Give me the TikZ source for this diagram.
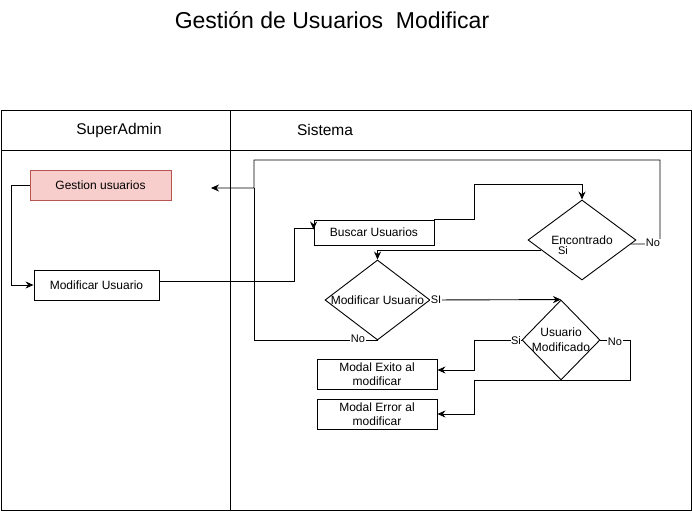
\documentclass[tikz,border=0pt]{standalone}
\usepackage{fontspec}
\setmainfont{Liberation Sans}
\usetikzlibrary{arrows.meta,shapes.geometric,calc}
\definecolor{rosa}{HTML}{F8CECC}
\definecolor{rosaborde}{HTML}{B85450}

\begin{document}
\begin{tikzpicture}[x=1pt,y=-1pt,line width=0.9pt,
    font=\fontsize{12}{14}\selectfont,
    box/.style={draw,minimum height=30pt,inner sep=0pt,align=center},
    decision/.style={draw,shape=diamond,inner sep=0pt,minimum height=80pt},
    arr/.style={-{Stealth[length=8pt,width=7pt]}},
    lbl/.style={fill=white,inner sep=0.5pt,font=\fontsize{11}{12}\selectfont},
    lane/.style={font=\fontsize{15.5}{17}\selectfont}]
\useasboundingbox (0,0) rectangle (692,511);

\node[font=\fontsize{23}{26}\selectfont] (titulo) at (332,20) {Gestión de Usuarios~~Modificar};

\draw (1,110) rectangle (691,510);
\draw (1,150) -- (691,150);
\draw (230,110) -- (230,510);
\node[lane] (superadmin) at (119,130) {SuperAdmin};
\node[lane] (sistema) at (325,130) {Sistema};

\node[box,fill=rosa,draw=rosaborde,minimum width=141pt] (gest) at (100.5,185) {Gestion usuarios};
\node[box,minimum width=125pt] (modu) at (96.5,285) {Modificar Usuario};
\node[box,minimum width=120pt,minimum height=25pt] (busc) at (374,232.5) {Buscar Usuarios};
\node[decision,minimum width=108pt,label=center:Encontrado] (enc) at (582,240) {};
\node[decision,minimum width=105pt,label=center:Modificar Usuario] (modd) at (377.5,300) {};
\node[decision,minimum width=78pt,label={[align=center,font=\fontsize{12}{15}\selectfont]center:Usuario\\Modificado}] (umod) at (561,340) {};
\node[box,minimum width=120pt] (exito) at (377,374) {Modal Exito al\\modificar};
\node[box,minimum width=120pt] (error) at (377,414) {Modal Error al\\modificar};
\coordinate (regreso) at (211,188);

\draw[arr] (gest.west) -- (11,185) |- (modu.west);
\draw[arr] ([yshift=4pt]modu.east) -| (294,228) -| ([yshift=-10pt]busc.north west);
\draw[arr] (busc.north east) -| (474,184) -| (enc.north);
\draw[arr] ($(enc.west)!0.25!(enc.south)$) -| (modd.north);
\draw[arr] ($(enc.east)!0.1!(enc.south)$) -- (660,244) |- (254,160) |- (regreso);
\draw (modd.south) -| (254,188);
\draw[arr] (modd.east) -- (umod.north);
\draw[arr] (umod.west) -- (474,340) |- ([yshift=4pt]exito.east);
\draw[arr] (umod.east) -- (630,340) |- (474,380) |- (error.east);

\node[lbl,fill=none] (sienc) at (563,251) {Si};
\node[lbl] (noenc) at (653,243) {No};
\node[lbl] (nomod) at (358,339) {No};
\node[lbl] (simod) at (436,300) {SI};
\node[lbl] (siumod) at (516,341) {Si};
\node[lbl] (noumod) at (615,342) {No};
\end{tikzpicture}
\end{document}
